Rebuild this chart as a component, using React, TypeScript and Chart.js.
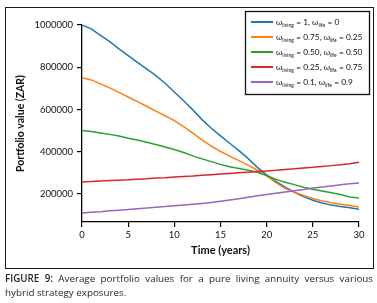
import React, { useEffect, useRef } from 'react';
import { Chart, registerables } from 'chart.js';

Chart.register(...registerables);

// Time in years
const years = [0, 1, 2, 3, 4, 5, 6, 7, 8, 9, 10, 11, 12, 13, 14, 15, 16, 17, 18, 19, 20, 21, 22, 23, 24, 25, 26, 27, 28, 29, 30];
const xTicks = [0, 5, 10, 15, 20, 25, 30];
const yTicks = [200000, 400000, 600000, 800000, 1000000];

// Legend weights
const livingWeights = ['1', '0.75', '0.50', '0.25', '0.1'];
const lifeWeights = ['0', '0.25', '0.50', '0.75', '0.9'];

// Portfolio values (ZAR) per year
const pureLiving = [1000000, 982000, 951000, 921000, 887000, 855000, 823000, 792000, 760000, 724000, 683000, 641000, 598000, 552000, 511000, 475000, 440000, 405000, 367000, 326000, 290000, 259000, 232000, 208000, 187000, 170000, 157000, 147000, 140000, 134000, 127000];
const hybrid75 = [750000, 740000, 721000, 702000, 681000, 659000, 637000, 615000, 592000, 570000, 547000, 519000, 488000, 456000, 426000, 401000, 379000, 358000, 336000, 312000, 285000, 254000, 226000, 208000, 193000, 178000, 167000, 158000, 151000, 145000, 138000];
const hybrid50 = [500000, 496000, 489000, 482000, 474000, 464000, 455000, 445000, 434000, 422000, 410000, 396000, 380000, 366000, 353000, 340000, 329000, 320000, 312000, 302000, 287000, 269000, 255000, 244000, 232000, 222000, 214000, 206000, 197000, 185000, 181000];
const hybrid25 = [257000, 259000, 261000, 263000, 265000, 267000, 270000, 272000, 275000, 277000, 280000, 283000, 285000, 288000, 291000, 294000, 297000, 300000, 303000, 306000, 309000, 312000, 316000, 319000, 323000, 326000, 330000, 334000, 338000, 343000, 350000];
const hybrid10 = [110000, 113000, 116000, 120000, 123000, 126000, 130000, 133000, 137000, 140000, 144000, 148000, 151000, 155000, 159000, 165000, 171000, 177000, 184000, 191000, 197000, 203000, 209000, 215000, 221000, 228000, 233000, 238000, 243000, 248000, 252000];

const seriesValues = [pureLiving, hybrid75, hybrid50, hybrid25, hybrid10];
const seriesColors = ['#1f77b4', '#ff7f0e', '#2ca02c', '#d62728', '#9467bd'];

const CHART_FONT = 'Lato';

const richLegend = {
  id: 'richLegend',
  afterDraw(chart: any) {
    const ctx = chart.ctx as CanvasRenderingContext2D;
    ctx.save();
    const bx = 245.5, by = 11.5, bw = 124, bh = 83;
    ctx.fillStyle = '#ffffff';
    ctx.fillRect(bx, by, bw, bh);
    ctx.lineWidth = 1.3;
    ctx.strokeStyle = '#111';
    ctx.strokeRect(bx, by, bw, bh);
    chart.data.datasets.forEach((ds: any, i: number) => {
      const y = 22 + i * 15;
      ctx.strokeStyle = ds.borderColor;
      ctx.lineWidth = 2;
      ctx.beginPath();
      ctx.moveTo(251, y);
      ctx.lineTo(273, y);
      ctx.stroke();
      let x = 276;
      const parts: [string, boolean][] = [
        ['ω', false],
        ['living', true],
        [' = ' + livingWeights[i] + ', ω', false],
        ['life', true],
        [' = ' + lifeWeights[i], false],
      ];
      ctx.fillStyle = '#111';
      ctx.textBaseline = 'alphabetic';
      ctx.textAlign = 'left';
      for (const [t, sub] of parts) {
        ctx.font = sub ? `5px ${CHART_FONT}` : `8.3px ${CHART_FONT}`;
        ctx.fillText(t, x, sub ? y + 4.8 : y + 3);
        x += ctx.measureText(t).width + (sub ? 0.3 : 0);
      }
    });
    ctx.restore();
  },
};

export default function App() {
  const ref = useRef<HTMLCanvasElement>(null);

  useEffect(() => {
    document.body.style.margin = '0';
    const canvas = ref.current!;
    const datasets = seriesValues.map((vals, i) => ({
      label: `ω_living = ${livingWeights[i]}, ω_life = ${lifeWeights[i]}`,
      data: years.map((t, k) => ({ x: t, y: vals[k] })),
      borderColor: seriesColors[i],
      backgroundColor: seriesColors[i],
      borderWidth: 1.5,
      pointRadius: 0,
      tension: 0,
      fill: false,
      order: seriesValues.length - 1 - i,
    }));
    const chart = new Chart(canvas, {
      type: 'line',
      data: { datasets },
      options: {
        animation: false,
        responsive: false,
        devicePixelRatio: 1,
        layout: { padding: { left: 0, top: 25, right: 18, bottom: 0 } },
        plugins: { legend: { display: false }, tooltip: { enabled: false } },
        scales: {
          x: {
            type: 'linear',
            min: 0,
            max: 30,
            afterBuildTicks: (scale: any) => {
              scale.ticks = xTicks.map((v) => ({ value: v }));
            },
            afterFit: (scale: any) => {
              scale.height = 46;
            },
            grid: { drawOnChartArea: false, drawTicks: true, tickLength: 5, color: '#000', lineWidth: 1.2 },
            border: { display: true, color: '#000', width: 1.3 },
            ticks: {
              color: '#111',
              padding: 2,
              maxRotation: 0,
              font: { family: CHART_FONT, size: 9.5 },
              callback: (v: any) => String(v),
            },
            title: {
              display: true,
              text: 'Time (years)',
              color: '#111',
              font: { family: CHART_FONT, size: 11, weight: 'bold' },
              padding: { top: 0, bottom: 11 },
            },
          },
          y: {
            type: 'linear',
            min: 67000,
            max: 1000000,
            afterBuildTicks: (scale: any) => {
              scale.ticks = yTicks.map((v) => ({ value: v }));
            },
            afterFit: (scale: any) => {
              scale.width = 82;
            },
            grid: { drawOnChartArea: false, drawTicks: true, tickLength: 5, color: '#000', lineWidth: 1.2 },
            border: { display: true, color: '#000', width: 1.3 },
            ticks: {
              color: '#111',
              padding: 4,
              font: { family: CHART_FONT, size: 9.5 },
              callback: (v: any) => String(v),
            },
            title: {
              display: true,
              text: 'Portfolio value (ZAR)',
              color: '#111',
              font: { family: CHART_FONT, size: 10.5, weight: 'bold' },
              padding: { top: 14, bottom: 0 },
            },
          },
        },
      },
      plugins: [richLegend],
    });
    return () => chart.destroy();
  }, []);

  return (
    <div style={{ position: 'relative', width: 377, height: 303, background: '#fff', overflow: 'hidden' }}>
      <canvas ref={ref} width={377} height={268} style={{ position: 'absolute', left: 0, top: 0, width: 377, height: 268 }} />
      <div
        style={{
          position: 'absolute',
          left: 5,
          top: 7,
          width: 369,
          height: 262,
          border: '1.3px solid #1a1a1a',
          boxSizing: 'border-box',
          pointerEvents: 'none',
        }}
      />
      <div
        style={{
          position: 'absolute',
          left: 5,
          top: 272,
          width: 368,
          fontFamily: '"Open Sans", sans-serif',
          fontSize: 9.8,
          color: '#231f20',
          lineHeight: '13.5px',
        }}
      >
        <div style={{ textAlign: 'justify', textAlignLast: 'justify', whiteSpace: 'nowrap' as const }}>
          <span style={{ fontWeight: 600 }}>FIGURE 9:</span> Average portfolio values for a pure living annuity versus various
        </div>
        <div>hybrid strategy exposures.</div>
      </div>
    </div>
  );
}
